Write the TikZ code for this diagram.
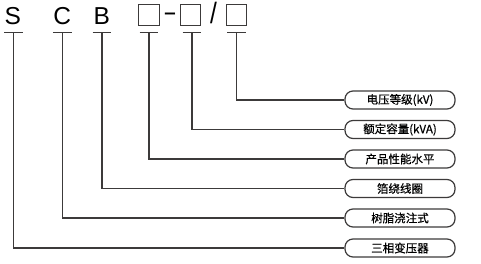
\documentclass[tikz,border=0pt]{standalone}
\usepackage{fontspec}
\setmainfont{Liberation Sans}
\newfontfamily\cjk[FakeBold=0.6]{Noto Sans CJK SC}
\definecolor{ln}{HTML}{3C3A3A}
\begin{document}
\begin{tikzpicture}[x=1pt,y=-1pt,
  lead/.style={draw=ln,line width=1.25pt},
  letter/.style={anchor=base,inner sep=0pt,font=\fontsize{24.5}{24.5}\selectfont},
  sq/.style={draw=ln,line width=1pt,minimum width=20.5pt,minimum height=21.5pt,inner sep=0pt},
  tag/.style={draw=ln,line width=1.2pt,rounded corners=8pt,minimum width=110pt,minimum height=18pt,inner sep=0pt,font=\cjk\fontsize{11.5}{11.5}\selectfont}]
\useasboundingbox (0,0) rectangle (481,264);
% top symbols
\node[letter] (S) at (12.8,25) {S};
\node[letter] (C) at (62.2,25) {C};
\node[letter] (B) at (101.8,25) {B};
\node[sq] (q1) at (148.8,15) {};
\node[letter,xscale=1.7] (dash) at (170,20.5) {-};
\node[sq] (q2) at (190.3,15) {};
\node[letter,yscale=1.2] (sl) at (213.5,24) {/};
\node[sq] (q3) at (236.7,15) {};
% T bars
\foreach \n/\x in {S/13.5,C/62.2,B/102,q1/149,q2/192,q3/236.5}{
  \coordinate (t\n) at (\x,32.3);
  \draw[lead] ([xshift=-9.3pt]t\n) -- ([xshift=9.3pt]t\n);
}
% tags
\node[tag] (g1) at (400,100) {电压等级(kV)};
\node[tag] (g2) at (400,129.5) {额定容量(kVA)};
\node[tag] (g3) at (400,159) {产品性能水平};
\node[tag] (g4) at (400,188.5) {箔绕线圈};
\node[tag] (g5) at (400,218) {树脂浇注式};
\node[tag] (g6) at (400,248) {三相变压器};
% connectors
\draw[lead] (tq3) |- (g1.west);
\draw[lead] (tq2) |- (g2.west);
\draw[lead] (tq1) |- (g3.west);
\draw[lead] (tB) |- (g4.west);
\draw[lead] (tC) |- (g5.west);
\draw[lead] (tS) |- (g6.west);
\end{tikzpicture}
\end{document}
